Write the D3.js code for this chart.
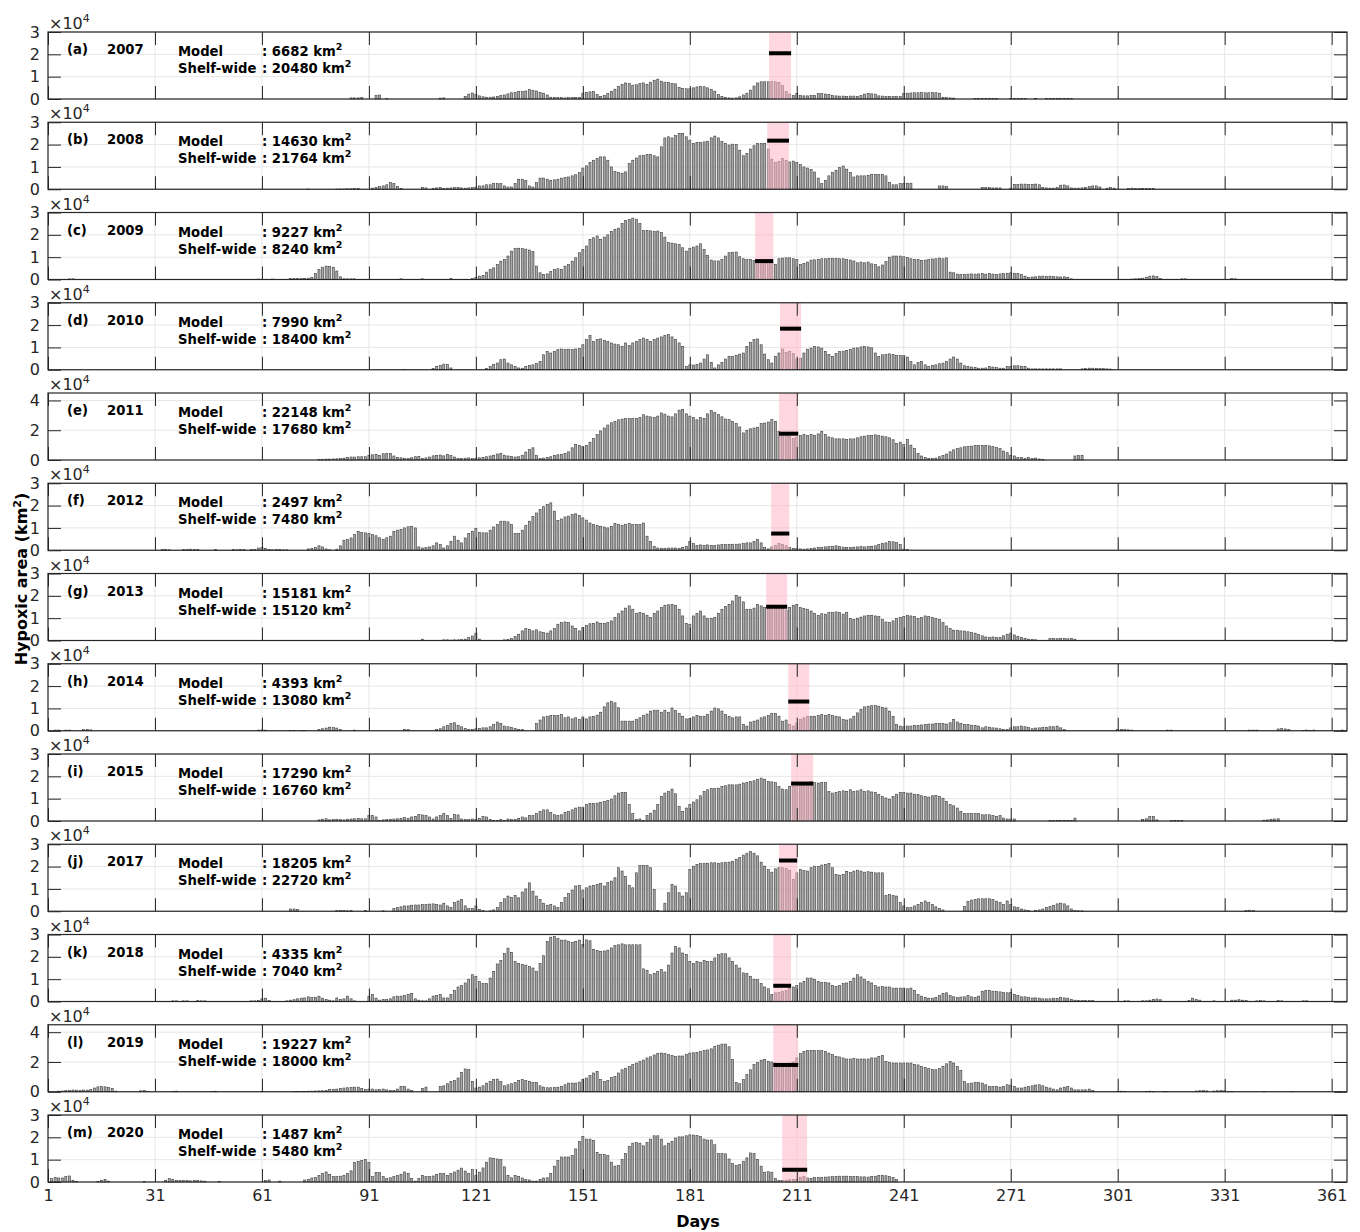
<!DOCTYPE html>
<html>
<head>
<meta charset="utf-8">
<script src="https://cdn.jsdelivr.net/npm/d3@7"></script>
<style>
  html, body { margin: 0; padding: 0; background: #fff; }
  svg { display: block; }
</style>
</head>
<body>
<script>
// Daily modelled hypoxic area on the shelf, in thousands of km², one array per year.
// Each array starts at the day given by the matching start value.
const panelTags = ["(a)", "(b)", "(c)", "(d)", "(e)", "(f)", "(g)", "(h)", "(i)", "(j)", "(k)", "(l)", "(m)"];
const years = ["2007", "2008", "2009", "2010", "2011", "2012", "2013", "2014", "2015", "2017", "2018", "2019", "2020"];
const modelArea = [6682, 14630, 9227, 7990, 22148, 2497, 15181, 4393, 17290, 18205, 4335, 19227, 1487];
const shelfArea = [20480, 21764, 8240, 18400, 17680, 7480, 15120, 13080, 16760, 22720, 7040, 18000, 5480];
const cruiseStart = [203.2, 202.7, 199.3, 206.3, 206.0, 203.8, 202.4, 208.6, 209.4, 206.0, 204.4, 204.4, 206.9];
const cruiseEnd = [209.4, 208.8, 204.4, 212.2, 211.4, 208.9, 208.3, 214.5, 215.6, 211.1, 209.4, 211.4, 213.9];
const axisMax = [30000, 30000, 30000, 30000, 45000, 30000, 30000, 30000, 30000, 30000, 30000, 45000, 30000];
const axisTicks3 = [0, 10000, 20000, 30000];
const axisTicks4 = [0, 20000, 40000];
const dayTicks = [1, 31, 61, 91, 121, 151, 181, 211, 241, 271, 301, 331, 361];

const start2007 = 86;
const area2007 = [0.5,0.5,0.5,0.6, 0,0,0, 1.6,1.8,0,0.3,
  0,0,0,0,0,0,0,0,0,0,0,0,0,0, 0.4,0.5, 0,0,0,0,0,
  1.2,2.2,2.7,2.0,1.4,1.0,0.8,0.8,0.9,1.2,1.5,1.8,2.3,2.8,3.0,3.3,3.4,3.6,4.2,3.8,3.6,3.0,2.6,1.8,0.8,0.6,0.6,0.6,0.5,0.6,0.6,0.7,0.7,
  2.6,3.0,3.2,3.4,2.0,1.2,1.6,2.4,3.4,4.4,
  5.7,6.5,7.2,6.9,6.2,6.4,6.9,7.2,6.6,7.5,
  8.4,8.9,8.0,7.5,7.4,6.9,6.8,5.2,4.7,4.6,
  4.6,5.0,5.4,5.7,5.5,5.0,4.2,3.5,2.0,1.2,
  0.6,0.5,0.4,0.5,1.0,1.8,2.6,4.0,5.8,7.2,
  7.7,7.7,7.7,7.8,7.7,7.4,6.0,3.4,2.2,1.5,
  2.4,1.6,1.4,1.4,1.5,1.6,2.4,2.4,2.2,2.0,
  1.5,1.4,1.3,1.3,1.2,1.3,1.3,1.1,1.5,2.2,
  2.4,2.3,2.2,1.4,1.3,1.2,1.2,1.1,1.1,1.2,
  2.4,2.6,2.7,2.8,2.8,2.9,2.8,2.8,2.9,2.8,
  2.6,0.8,0.6,0.5,0.4,
  0,0,0,0,0,0.2,0.3,0.3,0.2,0.3,
  0.2,0.3,0,0,0,0.2,0.2,0.3,0.2,0.2,
  0,0,0.2,0,0,0.2,0.3,0.2,0.2,0.2,
  0.3,0.2,0.2];

const start2008 = 74;
const area2008 = [0.1, 0,0,0,0,0,0,0, 0.1,0.1,0.1,0.2,0.2,0.3,0.3, 0,0,0,
  0.5,0.8,1.2,1.5,2.0,3.0,2.6,1.2,0.4, 0,0,0,0,0,
  0.8,0.6,0,0.4,0.6,0.7,0.4,0.5,0.6,0.7, 0.8,0.6,0.5,0.6,0.7,
  1.0,1.5,1.5,2.0,2.0,2.5,2.5,2.5,1.5,1.0,
  1.0,2.5,4.5,4.5,4.0,1.5,1.0,3.0,5.0,5.0,
  4.5,4.0,4.2,4.5,5.0,5.2,5.5,6.0,6.5,7.5,
  9.5,10.5,12.0,13.0,13.8,14.5,14.5,13.0,10.0,8.0,
  7.5,7.2,7.8,11.5,13.0,14.0,15.0,15.2,15.6,15.6,
  15.0,14.5,19.0,23.0,23.5,23.0,24.0,25.0,25.0,23.5,
  22.0,20.5,21.0,21.0,21.2,21.5,23.0,23.8,23.0,21.5,
  20.5,19.8,20.2,20.0,17.5,15.0,16.0,18.0,19.5,20.5,
  20.5,20.5,18.0,13.5,12.0,12.5,13.7,13.0,12.2,12.6,
  12.0,11.0,10.0,9.5,8.8,7.7,5.0,2.5,4.0,6.0,
  7.5,8.5,9.7,10.4,9.0,7.5,5.5,6.0,6.0,6.0,
  6.2,6.6,6.7,6.6,6.7,6.0,3.0,2.0,2.0,2.5,
  2.5,2.7,2.7, 0,0,0,0,0,0,0, 1.5,1.5,1.2, 0,0,0,0,0,0,0,0,0,
  0.7,0.7,0.7,0.6,0.6,0.6, 0,0,0.5,
  2.2,2.2,2.3,2.3,2.2,2.2,2.3,2.0, 0.8,0.6,0.5,0.5,0.8, 1.8,1.9,1.5,
  0.6,0.5,0.5,0.6,0.8, 1.2,1.5,1.5,1.0, 0,0.5,0.8,0.5, 0,0,0,
  0.4,0.5,0.4,0.4,0.4,0.3,0.4,0.3];

const start2009 = 7;
const area2009 = [0.3,0.3,
  0,0,0,0,0,0,0,0,0,0, 0,0,0,0,0,0,0,0,0,0, 0,0,0,0,0,0,0,0,0,0, 0,0,0,0,0,0,0,0,0,0, 0,0,0,0,0,0,0,0,0,0, 0,
  0.2, 0,0,0, 0.2, 0,0,0,0,
  0.4,0.4,0.4,0.4,0.5,0.6,1.0, 2.7,4.5,5.5,6.0,5.8,5.5,3.8,1.2,0.3, 0.3,0.3,0.3,
  0,0,0,0,0,0,0,0,0,0,0,0, 0.3, 0,0,0,0,0, 0.3, 0,0,0,0,0,0,0, 0.4, 0,0,0,0,0, 0.4,
  1.0,1.5,1.8,3.3,4.5,5.2,6.7,8.2,9.0,10.5,
  12.7,13.8,14.0,13.8,13.6,13.2,12.5,6.0,3.0,2.3,
  2.5,3.5,4.5,4.8,4.5,6.0,6.7,8.2,9.7,12.0,
  13.5,15.0,18.0,18.7,19.5,18.0,19.0,20.0,21.5,22.5,
  23.0,25.0,26.5,26.8,27.5,27.0,25.0,22.0,22.0,21.8,
  21.6,21.7,21.0,19.0,16.5,16.3,16.0,15.7,14.2,12.7,
  14.0,14.5,15.0,16.0,13.5,10.8,8.7,8.3,8.3,9.0,
  10.5,12.0,12.2,12.3,10.2,9.3,9.0,9.0,8.5,8.3,
  8.3,8.3,8.0,7.8,6.7,9.3,9.6,9.7,9.7,9.3,
  9.0,6.7,7.2,7.8,8.7,8.8,9.0,9.3,9.3,9.5,
  9.5,9.5,9.3,9.3,8.9,8.7,8.3,7.5,7.8,7.5,
  7.8,7.0,6.7,5.7,6.5,8.0,10.0,10.5,10.5,10.5,
  10.2,9.8,9.3,9.0,9.0,8.6,8.7,9.0,9.2,9.3,
  9.6,9.3,9.7,3.3,3.0,2.4,2.3,2.3,2.4,2.5,
  2.4,2.5,2.6,2.4,2.7,2.4,2.3,2.5,2.6,2.8,
  3.0,2.8,2.7,2.2,1.5,1.0,1.1,1.2,1.5,1.5,
  1.4,1.5,1.3,1.2,1.1,1.2,1.0,0.3,
  0,0,0,0,0,0,0,0,0,0,0,0,0,0,0,0,
  0.2,0.3,0.4,0.6,1.0,1.5,1.6,1.3,0.5, 0,0,0,0,0, 0.3,0.3,
  0,0,0,0,0,0,0,0,0,0,0,0, 0.4,0.3];

const start2010 = 101;
const area2010 = [0.2, 0,0,0,0,0,0,0, 0.6,1.5,2.0,2.5,2.3,0.8, 0,0,0,0,0,0,0,0,0,
  0.6,1.5,2.4,3.0,4.5,4.8,3.0,2.2,1.5,0.8,
  0.7,1.5,2.0,2.2,2.8,3.7,6.7,8.2,7.5,8.2,
  9.0,9.3,9.0,9.2,9.0,9.3,9.5,
  11.2,13.5,15.3,12.7,13.5,13.8,13.2,12.7,12.0,11.5,
  11.2,10.5,12.0,10.8,12.0,12.7,13.5,14.2,13.5,12.7,
  13.5,14.2,14.7,15.3,15.7,14.7,13.5,12.0,10.5,1.5,
  2.2,2.1,2.3,3.0,4.8,6.7,3.3,0.8,2.2,3.3,
  4.8,6.0,6.0,6.5,7.0,7.5,10.5,12.3,13.5,13.8,
  11.2,7.0,4.5,3.0,6.0,7.5,9.3,7.8,8.2,7.2,
  4.8,5.2,7.5,9.2,9.7,10.5,10.2,9.7,8.2,6.8,
  6.0,7.2,8.2,8.3,8.7,9.0,9.7,9.8,10.2,10.5,
  10.2,9.8,7.5,6.0,6.7,6.8,7.1,6.8,6.5,6.3,
  6.3,5.7,3.7,2.2,3.3,3.7,2.2,1.5,2.0,2.2,
  2.7,3.0,3.7,4.8,5.7,4.8,3.0,1.8,1.5,1.2,
  1.0,0.7,0.7,0.8,1.5,1.2,1.0,0.7,0.7,1.5,
  1.5,1.8,1.8,1.6,1.5,0.7,0.4,0.4,0.4,0.4,
  0.4,0.4,0.4,0.4,0.4, 0,0,0,0,0,
  0.4,0.6,0.7,0.7,0.6,0.5,0.5,0.4,0.3];

const start2011 = 77;
const area2011 = [0.4,0.5,0.6,0.6,0.7,0.8,1.0,1.3,1.8,2.0,2.0,2.2,2.2,2.2,
  3.1,3.5,3.8,3.0,4.2,4.4,4.4,2.7,1.8,1.5,
  1.2,1.0,1.5,2.2,2.5,1.0,1.4,2.0,2.8,3.1,
  3.3,2.8,3.8,3.0,2.0,1.0,0.9,1.2,1.4,0.9,
  1.2,1.5,1.8,2.2,2.7,3.2,4.0,4.4,3.2,2.7,
  2.4,2.0,2.2,3.2,5.3,7.1,8.2,3.0,1.0,1.3,
  1.8,2.2,3.0,3.5,3.8,4.5,5.5,8.2,10.4,9.8,
  9.0,9.8,12.0,14.5,17.0,19.5,21.5,23.5,25.0,26.0,
  27.0,27.5,27.8,27.8,27.8,28.0,28.5,30.4,29.5,29.0,
  28.5,29.5,31.6,30.8,29.5,29.0,31.0,33.5,33.8,31.0,
  29.5,28.5,27.0,28.5,28.0,31.0,33.3,32.0,30.5,29.0,
  27.5,27.1,26.0,24.5,22.2,18.2,20.0,21.0,21.5,22.0,
  24.4,24.8,25.5,27.1,26.0,19.3,17.2,16.4,16.0,14.5,
  15.5,16.4,17.1,16.5,17.0,16.5,17.5,19.3,17.1,15.5,
  14.9,14.2,14.2,14.2,13.8,14.2,14.2,14.9,15.6,16.0,
  16.4,16.4,16.9,16.4,16.0,15.6,14.9,13.6,11.1,12.0,
  10.4,13.8,10.0,7.6,4.4,2.7,1.6,1.1,0.9,1.3,
  2.2,3.1,4.0,5.5,6.8,7.6,8.2,8.9,9.0,9.3,
  9.8,9.8,9.8,9.8,9.5,9.0,8.5,7.6,6.0,4.9,
  3.1,2.7,1.6,1.6,0.9,1.6,0.9,1.3,0.7,0.5,
  0,0,0,0,0,0,0,0,2.7,3.1,3.1];

const start2012 = 33;
const area2012 = [0.3,0.3,0.2, 0,0,0, 0.3,0.4,0.5,0.3,0.3, 0,0,0,0, 0.3, 0,0,0,0,
  0.3,0.2,0.4,0.3,0, 0.3,0.4,1.0,1.2,0.8,0.3,0.2,0.4,0.3,0.2,0.2, 0,0,0,0,0,
  0.6,0.8,1.2,2.0,1.5,0.6,0.2,0,0.5,2.0,
  4.5,4.8,5.5,7.0,8.5,8.0,7.8,
  7.6,7.0,6.5,5.6,4.8,5.6,6.3,8.5,9.0,9.3,
  10.0,10.5,10.7,10.0,1.5,1.0,1.2,1.5,2.0,3.3,
  2.5,1.0,2.0,4.0,6.3,4.5,3.3,5.5,7.5,8.5,
  9.7,8.0,7.8,7.8,9.0,10.4,11.5,13.0,13.0,12.7,
  11.5,7.5,7.5,9.0,11.0,13.0,15.2,16.7,18.2,19.5,
  20.4,21.2,17.5,13.4,14.0,14.9,15.3,16.0,16.3,15.5,
  14.5,13.5,12.2,11.5,11.0,10.7,10.4,10.0,10.7,11.9,
  11.5,11.2,11.5,11.9,11.5,11.5,11.5,12.2,6.3,4.0,
  1.8,1.0,0.9,0.9,1.0,1.0,1.0,0.9,1.3,1.8,
  4.0,3.0,2.1,2.4,2.2,2.4,2.2,2.1,2.4,2.5,
  2.5,2.6,2.7,2.7,2.8,3.0,3.3,3.3,4.0,4.8,
  3.3,1.2,0.6,1.5,2.2,3.0,2.6,2.0,1.2,0.9,
  0.7,0.6,0.5,0.6,0.8,1.0,1.2,1.3,1.5,1.6,
  1.8,2.0,1.6,1.4,1.2,1.3,1.4,1.5,1.6,1.5,
  1.6,1.8,2.0,2.6,3.0,3.3,4.0,3.8,3.5,2.5,
  0.5,0.3];

const start2013 = 106;
const area2013 = [0.6, 0,0,0,0,0, 0.3,0.3,0.2,0.3,0.3,0.4,0.6, 1.3,2.0,3.3,0.6, 0,0,0,0,0,0,
  0.3,0.5,0.9,1.8,2.8,4.3,5.3,5.0,4.3,4.8,
  3.9,3.5,3.3,4.3,5.3,7.3,8.0,8.3,8.0,6.5,
  5.3,4.3,
  5.8,6.8,7.5,7.7,8.3,7.7,7.7,8.0,8.8,10.3,
  12.0,13.2,14.5,15.5,14.0,12.2,12.5,12.2,11.3,10.3,
  12.2,13.2,14.7,15.8,16.0,16.2,15.8,14.0,11.0,7.7,
  7.3,11.0,12.2,13.2,11.0,9.8,9.8,10.3,12.2,14.0,
  15.2,16.2,17.7,20.2,19.5,17.3,14.0,14.0,14.5,16.2,
  15.5,14.7,15.5,15.8,15.5,15.2,14.5,13.7,14.8,15.8,
  16.2,14.7,14.3,14.0,13.2,12.2,11.3,12.0,11.8,12.5,
  12.5,12.8,12.5,11.8,12.5,9.8,9.5,10.0,10.5,11.0,
  11.2,11.3,11.0,10.7,9.5,8.3,8.0,8.8,9.8,10.3,
  10.7,11.3,11.0,10.7,9.8,10.3,11.0,10.7,10.3,9.8,
  9.5,8.0,6.5,5.3,4.6,4.6,4.3,4.2,3.9,3.5,
  3.3,2.6,2.1,1.6,1.3,1.6,1.3,1.3,2.1,2.8,
  3.3,2.5,1.8,1.3,1.0,0.6,0.5,0.3, 0,0,0,
  0.9,0.9,0.8,0.9,0.9,0.8,0.9,0.6];

const start2014 = 3;
const area2014 = [0.3,0.3,0,0.3,0.3,0,0,0,0.5,0.6,0.4,
  0,0,0,0,0,0,0,0,0,0, 0,0,0,0,0,0,0,0,0,0, 0,0,0,0,0,0,0,0,0,0, 0,0,0,0,0,0,0,0,0,0, 0,0,0,0,0,0,
  0.3,0.4,0.3, 0,0,0,0,0,0,
  0.2,0.2,0,0.2,0.2,0,0,0, 0.6,0.9,1.2,1.6,1.4,1.2,0.6, 0,0,0,0.3,
  0,0,0,0,0,0,0,0,0,0,0,0,0, 0.6,0.5, 0,0,0,0,0,0,0,
  0.5,0.9,1.8,2.4,3.3,3.6,2.5,1.8,1.0,0.6,
  0.6,0.9,1.0,1.3,1.3,1.8,2.8,3.9,3.3,2.1,
  1.8,1.5,1.0,0.6,0.6,0,0,0,3.3,4.8,
  6.2,6.5,6.8,6.8,6.9,7.3,5.8,6.2,5.3,5.8,
  5.0,6.2,5.3,6.2,6.5,7.0,8.3,10.7,12.5,13.2,
  12.5,10.3,4.3,4.3,4.3,4.3,5.0,5.8,6.8,7.5,
  8.8,9.2,9.2,8.3,9.2,8.3,10.2,9.0,7.7,6.5,
  5.3,5.5,6.2,6.8,6.5,6.5,7.3,8.8,10.2,9.8,
  8.8,7.3,6.5,5.8,6.2,6.2,2.8,2.1,3.9,4.3,
  4.8,5.8,6.2,6.8,7.7,7.7,6.5,4.3,4.8,2.8,
  2.1,3.5,5.0,5.8,6.5,6.5,6.5,6.8,7.3,6.8,
  7.3,6.8,6.5,6.2,5.0,4.8,5.3,6.5,8.0,9.5,
  10.7,11.0,11.2,11.3,11.0,10.5,10.2,8.8,6.5,2.8,
  2.1,1.8,2.1,2.1,2.4,2.4,2.6,2.8,3.0,3.0,
  3.3,3.3,3.3,3.0,3.6,5.0,3.9,3.3,2.8,2.8,
  2.5,2.4,2.1,1.3,1.8,1.6,1.3,1.2,0.9,0.6,
  0.6,1.3,1.8,1.8,2.1,1.8,1.5,0.9,1.2,1.3,
  1.5,1.5,1.8,1.8,2.1,1.3,0.5,
  0,0,0,0,0,0,0,0,0,0,0,0,0,0,
  0.5,0.6,0.5,0.4,0.3, 0,0,0,0,0,0,0,0,0, 0.3,0.3,
  0,0,0,0,0,0,0,0,0,0,0,0,0,0,0,0,0,0,0,0,0,
  0.3,0.3,0.3, 0,0,0,0,0, 0.8,1.0,0.8,0.5, 0,0,0, 0.2,0.3,0.2,0.3, 0,0,0,0,0,0,0, 0.3];

const start2015 = 77;
const area2015 = [0.5,0.8,1.0,0.5,0.6,0.8,0.6,0.5,0.8,0.9,1.0,1.2,1.0,1.0,
  2.4,2.4,1.8,0.3,0.5,0.6,0.8,0.9,1.0,1.2,
  1.5,1.2,1.8,2.1,3.0,2.7,2.4,1.8,0.9,1.8,
  2.4,3.3,2.4,1.2,3.0,2.7,0.9,0.6,0.6,0.9,
  0.6,1.2,2.1,1.8,0.6,0.3,0.3,0.6,0.3,0.9,
  0.6,0.6,1.2,1.8,1.4,2.4,2.4,3.3,4.3,5.0,
  5.0,3.9,2.8,2.4,2.8,3.9,4.3,5.0,5.8,6.2,
  6.2,7.3,7.8,7.8,8.0,8.4,8.8,9.2,9.8,11.3,
  12.5,12.8,12.8,7.3,3.3,0.6,0.9,0.3,2.4,3.5,
  4.8,7.3,11.0,12.5,13.2,14.3,12.2,6.5,4.3,5.8,
  7.3,8.5,9.5,11.3,13.2,14.0,14.5,14.5,14.7,15.5,
  15.8,16.2,16.2,16.2,16.5,17.0,17.3,17.7,18.0,18.7,
  19.2,18.7,17.7,17.5,17.2,15.5,14.3,14.0,15.5,15.5,
  15.8,16.5,17.0,17.3,17.7,17.2,17.0,17.2,17.2,13.2,
  12.5,12.8,13.2,13.5,13.3,14.0,13.2,13.5,14.0,13.2,
  13.5,13.0,12.8,11.9,11.0,10.3,9.8,11.0,12.0,12.8,
  12.8,12.5,12.5,12.0,11.9,11.3,11.0,10.7,11.3,11.5,
  11.0,10.2,8.8,7.3,6.8,5.8,4.3,3.3,3.3,3.3,
  3.3,3.3,2.8,2.8,2.8,2.4,2.1,2.4,1.3,0.9,
  0.9,0.9, 0,0,0,0,0,0,0,0,0,
  0.3,0.3,0.3,0.3,0.3,0.3,0.3,1.3,
  0,0,0,0,0,0,0,0,0,0,0,0,0,0,0,0,0,0,
  0.6,1.0,2.0,2.0,0.5, 0,0,0, 0.3,0.2,0.2,0.3,
  0,0,0,0,0,0,0,0,0,0,0,0,0,0,0,0,0,0,0,0,0,0,
  0.4,0.5,0.8,0.9,1.0];

const start2017 = 69;
const area2017 = [1.0,1.0,0.8,0,0, 0,0,0,0,0,0,0,0, 0.3,0.3,0.3,0.2,0.3, 0,0,0,0.3, 0,0,0,0,0.2,0,0,
  1.2,1.6,2.0,
  2.4,2.4,2.7,2.8,2.8,3.0,3.0,3.2,3.3,3.0,
  2.8,3.6,2.4,1.6,3.9,4.6,5.3,2.4,1.2,1.2,
  2.4,0.9,0.3,0,0.2,0.6,1.6,3.9,5.6,6.8,
  6.2,7.0,6.0,8.6,10.0,12.7,9.0,6.8,5.3,3.6,
  2.7,3.0,2.4,1.6,3.9,6.2,8.0,9.5,11.3,11.6,
  9.5,10.5,11.3,11.6,12.0,12.5,11.3,12.8,13.5,15.0,
  19.5,18.0,15.5,11.6,10.5,17.2,20.5,20.5,20.5,19.5,
  9.8,0.3,0,3.6,8.3,12.0,11.3,8.3,6.8,8.3,
  18.7,20.2,21.0,21.3,21.3,21.5,21.7,21.7,21.5,21.7,
  21.8,22.0,22.4,23.3,24.1,25.1,26.0,26.7,26.0,24.8,
  22.0,20.2,18.7,17.5,19.0,19.5,19.5,19.2,18.4,14.3,
  17.2,18.7,18.2,18.0,19.5,20.2,20.0,20.7,21.0,21.4,
  19.5,16.5,16.2,16.5,17.9,17.3,18.0,18.4,18.0,17.5,
  17.7,17.5,17.2,17.2,17.2,7.0,7.6,7.0,6.8,3.9,
  2.4,1.6,1.6,2.4,3.0,3.9,4.6,3.9,3.0,2.0,
  1.2,0.6,0,0,0,0,0,
  2.2,4.3,5.0,5.3,5.6,5.6,5.6,5.6,5.3,4.5,
  3.9,3.0,4.6,3.0,2.0,1.6,1.0,0.6,0.3,0,
  0.4,0.6,1.0,1.6,2.1,2.7,3.3,3.6,3.3,2.4,
  1.0,0.3,0.2,0.2,
  0,0,0,0,0,0,0,0,0,0, 0,0,0,0,0,0,0,0,0,0, 0,0,0,0,0,0,0,0,0,0, 0,0,0,0,0,0,0,0,0,0, 0,0,0,0,0,
  0.3,0.5,0.4];

const start2018 = 36;
const area2018 = [0.3,0.3,0,0.3,0.3,0,0,0.4,0.3,0.3,
  0,0,0,0,0,0,0,0,0,0,0,0,
  0.3,0.3,0.5,1.2,1.5,0.5, 0,0,0,0,
  0.3,0.6,0.8,1.2,1.5,1.6,2.1,1.8,1.9,2.4,
  1.5,0.9,0.6,0.3,1.6,0.9,1.2,2.4,1.2,0.3, 0,0,0,
  2.4,3.1,1.5,0.6,0.9,1.0,1.2,2.1,2.4,2.4,
  2.7,3.1,3.6,1.2,0.6,0.3,0.3,1.2,2.4,2.7,
  3.1,1.6,1.6,3.1,5.0,6.5,7.1,8.3,10.0,12.0,
  11.3,8.9,8.0,8.0,10.5,13.5,16.8,18.4,21.5,23.9,
  22.0,18.0,17.0,16.5,16.3,15.6,15.0,13.5,17.0,20.5,
  26.9,28.8,29.1,28.2,27.5,27.5,27.0,26.5,26.9,27.5,
  25.5,27.6,27.2,23.4,22.9,22.4,22.6,23.0,24.0,25.0,
  25.4,25.8,25.4,25.4,25.4,25.4,25.4,14.6,14.0,12.0,
  12.5,13.5,14.3,13.2,16.3,21.7,24.7,24.0,21.7,21.0,
  18.0,17.0,18.0,17.5,18.4,18.0,18.0,19.5,21.0,21.4,
  21.4,19.5,18.0,16.3,15.0,12.8,12.5,11.3,10.0,9.8,
  8.0,6.5,5.7,3.1,3.9,4.1,4.6,5.0,6.0,6.5,
  7.1,8.3,9.0,10.5,10.5,10.0,9.0,8.6,8.6,8.3,
  7.1,6.8,7.1,8.0,8.3,9.0,10.5,12.0,11.0,10.0,
  9.0,8.3,7.1,6.5,6.8,6.5,6.5,6.0,6.0,6.0,
  6.0,5.7,6.0,5.0,3.1,2.4,1.8,1.5,1.5,1.8,
  2.7,3.6,3.9,2.7,2.1,1.8,2.0,2.1,2.7,2.1,
  1.8,2.4,4.6,5.0,5.0,4.6,4.5,4.3,4.0,3.9,
  4.0,3.1,2.7,2.1,2.1,1.9,1.6,1.6,1.5,1.2,
  1.2,1.2,1.5,1.3,1.8,1.6,1.5,0.9,0.6,0.5,
  0.4,0.4,0.4,0.4, 0,0,0,0,0,0,0,0,
  0.3,0.3,0,0,0,0.3,0.3,0.6,1.0,1.1,0.8, 0,0,0,0,0,0,0,
  0.5,1.5,0.9,0.6, 0,0,0,0.3,0,0,0,0,
  0.6,0.6,0.8,0.6,0.5,0,0,0.3,0.4,0.3,
  0,0,0,0.4,0.3,0,0,0,0,0,0.3,0.3];

const start2019 = 4;
const area2019 = [0.4,0.5,0.8,1.0,1.2,1.1,1.0,1.2,1.1,1.5,
  2.5,3.3,3.5,3.3,3.0,2.2,0.4, 0,0,0,0,0,0, 0.6,0.8,0.3, 0,0,0,0,0,0, 0.3,0.4,
  0,0,0,0,0,0,0,0,0, 0.3,0.4, 0,0,0,0,0,0,0,0,0,0,0,0, 0.3, 0,0,0,0,0,0,0,0,
  0.3,0.3,0.3,0.3,0.4,0.4,0.5,0.6,0.7,
  0.9,1.4,1.6,1.8,2.2,2.5,2.7,2.9,3.1,3.1,
  2.3,1.5,1.8,1.8,1.3,1.5,1.8,1.3,1.0,0.9,
  1.8,3.6,3.6,1.8,0.9,0,0,2.2,3.1,0,
  0,0,
  3.6,4.0,5.4,7.0,7.6,9.2,13.0,15.3,15.0,7.0,
  2.5,3.1,4.0,5.8,7.0,8.1,8.5,7.0,4.0,4.7,
  5.4,6.3,7.6,8.1,7.6,7.0,6.3,6.3,4.0,3.1,
  2.7,2.7,2.9,3.1,3.6,4.7,5.8,5.8,5.8,6.5,
  8.1,9.2,10.8,12.6,13.7,8.1,7.0,7.6,9.5,10.3,
  12.6,14.8,15.8,17.0,18.2,19.3,20.4,21.3,22.7,23.5,
  24.7,25.6,26.0,25.6,24.9,24.3,23.6,24.0,24.0,25.2,
  26.0,26.2,26.5,27.0,27.6,28.1,28.8,30.6,31.3,32.0,
  32.0,30.2,21.6,6.3,5.4,8.1,11.5,14.8,18.2,19.8,
  21.2,21.6,20.4,20.0,19.3,18.7,18.7,18.7,19.3,20.0,
  22.7,25.6,27.0,27.6,27.6,27.6,27.6,27.6,27.0,26.0,
  24.9,23.8,23.4,22.7,22.0,22.0,22.5,22.0,22.0,22.0,
  22.0,22.7,22.7,23.8,24.3,20.4,19.8,19.3,19.3,19.3,
  19.3,19.3,19.3,18.4,18.0,17.0,16.2,15.5,15.0,14.8,
  15.5,17.1,18.8,20.4,19.3,17.1,14.4,7.0,5.4,5.8,
  6.3,6.3,5.8,4.7,3.6,3.6,3.6,3.1,3.6,4.7,
  4.5,3.6,2.5,2.5,3.1,3.6,4.0,4.5,4.7,4.0,
  3.1,2.5,1.8,1.3,2.5,3.1,3.6,2.5,1.3,1.3,
  1.3,1.3,1.8,0.9, 0,0,0,0,0,0,
  0.3,0.4,0.3, 0,0,0,0,0, 0.3,0.4,0.3, 0,0, 0.3,0.3, 0,0,0,0,0,0,0,
  0.5,0.7,0.8,0.6,0, 0.5,0.7,0.8,0.6,0.3,0.3, 0,0,0,0,0,0,0,0, 0.3,
  0,0,0,0,0,0,0, 0.3, 0,0,0,0,0,0,0,0,0,0,0,0, 0.3];

const start2020 = 2;
const area2020 = [1.5,2.0,1.8,1.8,2.4,2.7,0.8,0.2, 0,0,0,0,0, 0.2,0.8,1.2,0.4, 0,0,0,0,0,0,0,0,0, 0.2, 0,0,0,0,0,
  0.8,1.5,1.2,0.6,0.6,0.6,0.6,0.5,0.6,0.6,0.5,0.4, 0,0,0, 0.3,
  0,0,0,0,0,0,0,0,0,0,0,0, 0.6,0.9, 0,0, 0.4, 0,0,0,0,0,0,
  0.9,1.2,1.8,2.0,3.0,3.8,4.5,3.4,2.4,2.4,
  2.6,3.0,3.8,5.0,8.8,9.3,9.7,10.0,8.8,2.4,
  4.2,4.2,2.4,1.5,1.9,2.4,3.0,3.5,4.5,3.8,
  1.5,0.4,1.5,3.0,2.4,2.4,2.7,3.3,3.8,3.8,
  3.0,3.8,4.5,5.3,6.2,4.9,3.8,5.6,3.0,4.4,
  6.3,8.9,10.8,10.6,10.3,10.0,6.8,3.0,1.9,3.0,
  2.4,1.8,1.2,0.9,0.4,0.4,1.2,1.8,1.9,3.8,
  7.1,9.7,11.2,11.2,11.2,11.8,14.8,18.2,20.4,19.2,
  19.2,18.6,13.3,12.3,12.3,11.8,8.9,7.1,7.4,10.0,
  12.7,16.0,17.4,17.7,17.4,16.2,17.7,19.2,20.7,20.7,
  19.2,16.2,17.4,18.2,19.7,20.2,20.2,20.7,
  21.1,21.0,20.8,20.3,19.2,18.8,18.8,16.7,12.7,12.7,
  12.6,10.3,8.3,7.5,7.8,9.3,10.8,13.0,12.7,10.0,
  7.1,4.4,4.6,4.4,1.5,0.6,0.6,0.8,1.0,1.2,
  1.2,2.0,2.4,1.8,1.6,2.0,2.0,2.1,2.2,2.3,
  2.4,2.5,2.6,2.6,2.6,2.5,2.5,2.4,2.3,2.3,
  2.2,2.4,2.6,3.0,3.0,2.8,2.4,2.0,1.2];

const seriesStart = [start2007, start2008, start2009, start2010, start2011, start2012, start2013,
  start2014, start2015, start2017, start2018, start2019, start2020];
const seriesArea = [area2007, area2008, area2009, area2010, area2011, area2012, area2013,
  area2014, area2015, area2017, area2018, area2019, area2020];

// ---- layout ----
const W = 1360, H = 1232;
const plotLeft = 48, plotRight = 1347;
const firstTop = 32, panelStep = 90.25, panelH = 67;
const tickLen = 13;
const ink = "#262626";
const numFont = "'DejaVu Sans', sans-serif";

const svg = d3.select("body").append("svg")
  .attr("width", W).attr("height", H)
  .attr("viewBox", `0 0 ${W} ${H}`);

const x = d3.scaleLinear().domain([1, 365.3]).range([plotLeft, plotRight]);
const barW = 0.58 * (x(2) - x(1));

seriesArea.forEach((vals, i) => {
  const top = firstTop + i * panelStep;
  const g = svg.append("g").attr("transform", `translate(0,${top})`);
  const y = d3.scaleLinear().domain([0, axisMax[i]]).range([panelH, 0]);
  const yTicks = axisMax[i] > 30000 ? axisTicks4 : axisTicks3;

  const rows = vals.map((v, k) => ({ day: seriesStart[i] + k, area: v * 1000 }))
    .filter(d => d.area > 0);

  // grid
  g.append("g").selectAll("line").data(dayTicks).join("line")
    .attr("x1", d => x(d)).attr("x2", d => x(d))
    .attr("y1", 0).attr("y2", panelH)
    .attr("stroke", "#e6e6e6").attr("stroke-width", 1);
  g.append("g").selectAll("line").data(yTicks).join("line")
    .attr("x1", plotLeft).attr("x2", plotRight)
    .attr("y1", d => y(d)).attr("y2", d => y(d))
    .attr("stroke", "#e6e6e6").attr("stroke-width", 1);

  // daily bars
  g.append("g").selectAll("rect").data(rows).join("rect")
    .attr("x", d => x(d.day) - barW / 2)
    .attr("width", barW)
    .attr("y", d => y(d.area))
    .attr("height", d => y(0) - y(d.area))
    .attr("fill", "#a9a9a9")
    .attr("stroke", "#3d3d3d")
    .attr("stroke-width", 0.6);

  // shelf-wide cruise window
  g.append("rect")
    .attr("x", x(cruiseStart[i])).attr("width", x(cruiseEnd[i]) - x(cruiseStart[i]))
    .attr("y", 0).attr("height", panelH)
    .attr("fill", "rgb(255,182,198)").attr("fill-opacity", 0.55);
  g.append("line")
    .attr("x1", x(cruiseStart[i])).attr("x2", x(cruiseEnd[i]))
    .attr("y1", y(shelfArea[i])).attr("y2", y(shelfArea[i]))
    .attr("stroke", "#000").attr("stroke-width", 4);

  // axes (ticks pointing inward on all four sides)
  const fmt = d => d / 10000;
  const left = g.append("g").attr("transform", `translate(${plotLeft},0)`)
    .call(d3.axisLeft(y).tickValues(yTicks).tickFormat(fmt).tickSize(-tickLen).tickPadding(8));
  const right = g.append("g").attr("transform", `translate(${plotRight},0)`)
    .call(d3.axisRight(y).tickValues(yTicks).tickFormat("").tickSize(-tickLen));
  const topAx = g.append("g")
    .call(d3.axisTop(x).tickValues(dayTicks).tickFormat("").tickSize(-tickLen));
  const bottom = g.append("g").attr("transform", `translate(0,${panelH})`)
    .call(d3.axisBottom(x).tickValues(dayTicks)
      .tickFormat(i === seriesArea.length - 1 ? d3.format("d") : "")
      .tickSize(-tickLen).tickPadding(8));
  [left, right, topAx, bottom].forEach(a => {
    a.select(".domain").remove();
    a.selectAll(".tick line").attr("stroke", ink).attr("stroke-width", 1);
    a.selectAll("text").attr("fill", ink).style("font-family", numFont).style("font-size", "16px");
  });

  g.append("rect")
    .attr("x", plotLeft).attr("y", 0)
    .attr("width", plotRight - plotLeft).attr("height", panelH)
    .attr("fill", "none").attr("stroke", ink).attr("stroke-width", 1.2);

  // exponent label
  const ex = g.append("text").attr("x", 49).attr("y", -3)
    .attr("fill", ink).style("font-family", numFont).style("font-size", "16px");
  ex.append("tspan").text("\u00d710");
  ex.append("tspan").attr("dy", -7).style("font-size", "11px").text("4");

  // panel annotations
  const bold = (t, size) => t.attr("fill", "#000")
    .style("font-family", "'DejaVu Sans', sans-serif")
    .style("font-weight", "bold").style("font-size", size || "13.2px");
  bold(g.append("text").attr("x", 67).attr("y", 22).text(panelTags[i]));
  bold(g.append("text").attr("x", 107).attr("y", 22).text(years[i]));
  bold(g.append("text").attr("x", 178).attr("y", 24).text("Model"));
  bold(g.append("text").attr("x", 178).attr("y", 41).text("Shelf-wide"));
  const addValue = (yy, val) => {
    const t = bold(g.append("text").attr("x", 262).attr("y", yy));
    t.append("tspan").text(`: ${val} km`);
    t.append("tspan").attr("dy", -6).style("font-size", "9.5px").text("2");
  };
  addValue(24, modelArea[i]);
  addValue(41, shelfArea[i]);
});

// axis titles
const yl = svg.append("text")
  .attr("transform", "translate(27,579) rotate(-90)")
  .attr("text-anchor", "middle").attr("fill", "#000")
  .style("font-family", "'DejaVu Sans', sans-serif")
  .style("font-weight", "bold").style("font-size", "16px");
yl.append("tspan").text("Hypoxic area (km");
yl.append("tspan").attr("dy", -6).style("font-size", "11px").text("2");
yl.append("tspan").attr("dy", 6).text(")");

svg.append("text").attr("x", 698).attr("y", 1227)
  .attr("text-anchor", "middle").attr("fill", "#000")
  .style("font-family", "'DejaVu Sans', sans-serif")
  .style("font-weight", "bold").style("font-size", "16px")
  .text("Days");
</script>
</body>
</html>
